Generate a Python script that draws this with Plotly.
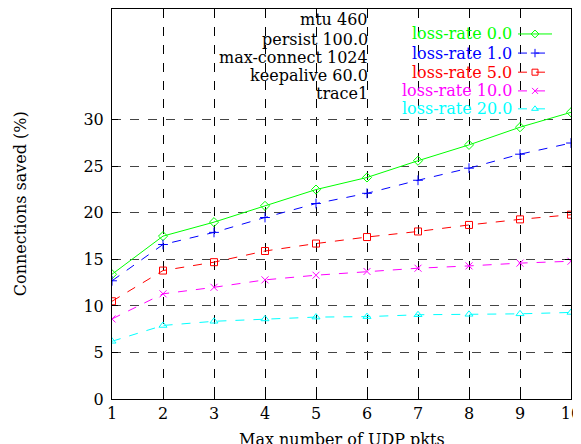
import plotly.graph_objects as go

x_pkts = [1, 2, 3, 4, 5, 6, 7, 8, 9, 10]
loss_0 = [13.4, 17.5, 19.0, 20.75, 22.5, 23.8, 25.6, 27.3, 29.2, 30.8]
loss_1 = [12.7, 16.6, 17.9, 19.5, 21.0, 22.1, 23.5, 24.8, 26.3, 27.5]
loss_5 = [10.5, 13.8, 14.7, 15.9, 16.7, 17.4, 18.0, 18.7, 19.3, 19.8]
loss_10 = [8.6, 11.3, 12.0, 12.8, 13.3, 13.7, 14.05, 14.3, 14.6, 14.8]
loss_20 = [6.2, 7.9, 8.35, 8.6, 8.8, 8.85, 9.05, 9.1, 9.15, 9.3]
series_names = ["loss-rate 0.0", "loss-rate 1.0", "loss-rate 5.0", "loss-rate 10.0", "loss-rate 20.0"]
info_lines = ["mtu 460", "persist 100.0", "max-connect 1024", "keepalive 60.0", "trace1"]
y_ticks = [0, 5, 10, 15, 20, 25, 30]

FONT = "DejaVu Serif"
FS = 16
series = [loss_0, loss_1, loss_5, loss_10, loss_20]
colors = ["#00ff00", "#0000ff", "#ff0000", "#ff00ff", "#00ffff"]
symbols = ["diamond-open", "cross-thin-open", "square-open", "x-thin-open", "triangle-up-open"]
dashes = ["solid", "dash", "dash", "dash", "dash"]

fig = go.Figure()
for ys, c, s, d, n in zip(series, colors, symbols, dashes, series_names):
    fig.add_trace(go.Scatter(
        x=x_pkts, y=ys, mode="lines+markers", name=n,
        line=dict(color=c, width=1, dash=d),
        marker=dict(symbol=s, size=7, color=c, line=dict(color=c, width=1)),
        showlegend=False))

# legend samples (gnuplot style: text then sample) on overlay axes
leg_y = [0.936, 0.887, 0.838, 0.790, 0.744]
for ly, c, s, d, n in zip(leg_y, colors, symbols, dashes, series_names):
    fig.add_trace(go.Scatter(
        x=[0.8845, 0.9586], y=[ly, ly], mode="lines", xaxis="x2", yaxis="y2",
        line=dict(color=c, width=1, dash=d), showlegend=False, hoverinfo="skip"))
    fig.add_trace(go.Scatter(
        x=[0.9216], y=[ly], mode="markers", xaxis="x2", yaxis="y2",
        marker=dict(symbol=s, size=6, color=c, line=dict(color=c, width=1)),
        showlegend=False, hoverinfo="skip"))
    fig.add_annotation(x=0.875, y=ly, xref="paper", yref="paper", text=n,
                       showarrow=False, xanchor="right", yanchor="middle",
                       font=dict(family=FONT, size=FS, color=c))

info_y = [0.972, 0.923, 0.876, 0.830, 0.784]
for t, iy in zip(info_lines, info_y):
    fig.add_annotation(x=0.563, y=iy, xref="paper", yref="paper", text=t,
                       showarrow=False, xanchor="right", yanchor="middle",
                       font=dict(family=FONT, size=FS, color="black"))

fig.add_annotation(x=0.5, y=-0.075, xref="paper", yref="paper",
                   text="Max number of UDP pkts", showarrow=False,
                   xanchor="center", yanchor="top",
                   font=dict(family=FONT, size=FS, color="black"))
fig.add_annotation(x=-0.2, y=0.5, xref="paper", yref="paper",
                   text="Connections saved (%)", showarrow=False, textangle=-90,
                   xanchor="center", yanchor="middle",
                   font=dict(family=FONT, size=FS, color="black"))

fig.update_layout(
    width=581, height=444,
    margin=dict(l=104, r=18, t=1, b=53),
    paper_bgcolor="white", plot_bgcolor="white",
    font=dict(family=FONT, size=FS, color="black"),
    xaxis=dict(range=[1, 10], tickvals=x_pkts, showgrid=True,
               gridcolor="black", griddash="dash", gridwidth=1,
               showline=True, linecolor="black", linewidth=1, mirror="ticks",
               ticks="inside", ticklen=6, tickcolor="black", zeroline=False,
               ticklabeloverflow="allow"),
    yaxis=dict(range=[0, 41.9], tickvals=y_ticks, showgrid=True,
               gridcolor="#444", griddash="dash", gridwidth=1,
               showline=True, linecolor="black", linewidth=1, mirror="ticks",
               ticks="inside", ticklen=6, tickcolor="black", zeroline=False,
               ticklabelstandoff=4),
    xaxis2=dict(overlaying="x", range=[0, 1], visible=False),
    yaxis2=dict(overlaying="y", range=[0, 1], visible=False),
)

fig.write_html("out.html")
